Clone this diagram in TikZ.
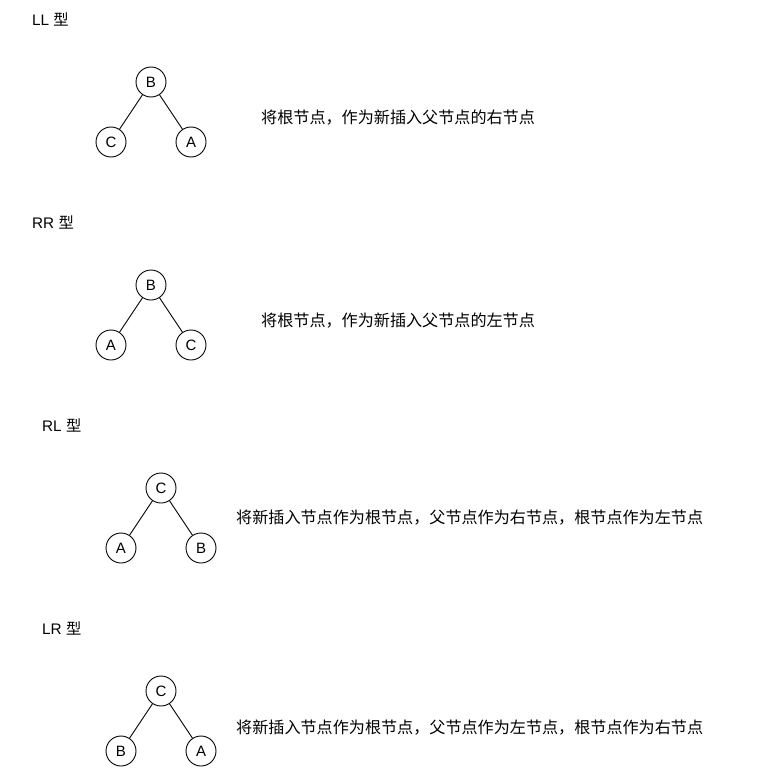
\documentclass[tikz,border=0pt]{standalone}
\usepackage{fontspec}
\setmainfont{Liberation Sans}
\newfontfamily\cjk{Noto Sans CJK SC}
\begin{document}
\begin{tikzpicture}[x=1pt,y=-1pt,
  tnode/.style={draw=black,circle,minimum size=30pt,inner sep=0pt,line width=0.9pt,font=\fontsize{15}{15}\selectfont},
  tedge/.style={draw=black,line width=0.9pt},
  title/.style={anchor=west,inner sep=0pt,font=\fontsize{15.3}{15}\selectfont},
  desc/.style={anchor=west,inner sep=0pt,font=\cjk\fontsize{16.1}{16}\selectfont}]
\useasboundingbox (0,0) rectangle (759,776);
% LL
\node[title] (t1) at (32,19) {LL {\cjk 型}};
\node[tnode] (b1) at (151,82) {B};
\node[tnode] (c1) at (111,142) {C};
\node[tnode] (a1) at (191,142) {A};
\draw[tedge] (b1) -- (c1);
\draw[tedge] (b1) -- (a1);
\node[desc] (d1) at (261,117.5) {将根节点，作为新插入父节点的右节点};
% RR
\node[title] (t2) at (32,222) {RR {\cjk 型}};
\node[tnode] (b2) at (151,285) {B};
\node[tnode] (a2) at (111,345) {A};
\node[tnode] (c2) at (191,345) {C};
\draw[tedge] (b2) -- (a2);
\draw[tedge] (b2) -- (c2);
\node[desc] (d2) at (261,320.5) {将根节点，作为新插入父节点的左节点};
% RL
\node[title] (t3) at (42,425) {RL {\cjk 型}};
\node[tnode] (c3) at (161,488) {C};
\node[tnode] (a3) at (121,548) {A};
\node[tnode] (b3) at (201,548) {B};
\draw[tedge] (c3) -- (a3);
\draw[tedge] (c3) -- (b3);
\node[desc] (d3) at (236,517.5) {将新插入节点作为根节点，父节点作为右节点，根节点作为左节点};
% LR
\node[title] (t4) at (42,628) {LR {\cjk 型}};
\node[tnode] (c4) at (161,691) {C};
\node[tnode] (b4) at (121,751) {B};
\node[tnode] (a4) at (201,751) {A};
\draw[tedge] (c4) -- (b4);
\draw[tedge] (c4) -- (a4);
\node[desc] (d4) at (236,727.5) {将新插入节点作为根节点，父节点作为左节点，根节点作为右节点};
\end{tikzpicture}
\end{document}
